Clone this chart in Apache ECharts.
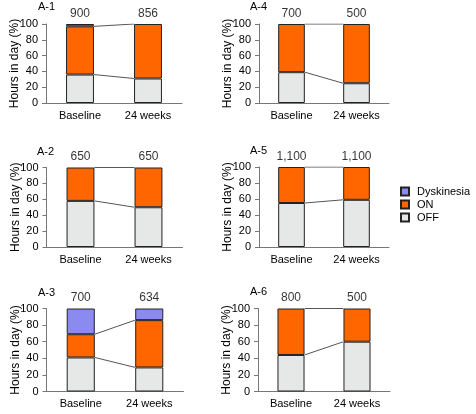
<!DOCTYPE html>
<html><head><meta charset="utf-8">
<script src="https://cdn.jsdelivr.net/npm/echarts@6/dist/echarts.min.js"></script>
<style>html,body{margin:0;padding:0;background:#fff}#c{width:476px;height:414px}</style>
</head><body><div id="c"></div>
<script>
// ---- data ----
const panelNames = ['A-1', 'A-2', 'A-3', 'A-4', 'A-5', 'A-6'];
const categories = ['Baseline', '24 weeks'];
const offValues  = [[36, 31], [58, 50], [41, 29], [39, 25], [55, 59], [44, 60]];
const onValues   = [[61, 69], [42, 50], [28, 57], [61, 75], [45, 41], [56, 40]];
const dyskValues = [[3, 0], [0, 0], [31, 14], [0, 0], [0, 0], [0, 0]];
const topLabels  = [['900', '856'], ['650', '650'], ['700', '634'], ['700', '500'], ['1,100', '1,100'], ['800', '500']];
const yTickMin = 0, yTickMax = 100, yTickStep = 20;
const legendNames = ['Dyskinesia', 'ON', 'OFF'];

// ---- layout ----
const grids = [
  {left: 46, top: 24, width: 136, height: 79},
  {left: 46.5, top: 167.5, width: 136, height: 79.5},
  {left: 46.5, top: 308.5, width: 137, height: 83},
  {left: 259, top: 24, width: 130, height: 79},
  {left: 259, top: 167, width: 130, height: 80},
  {left: 258, top: 308.5, width: 132, height: 83}
];
const titlePos = [
  {left: 38, top: 1}, {left: 37, top: 146}, {left: 38, top: 287},
  {left: 250, top: 1}, {left: 250, top: 145}, {left: 250, top: 286}
];
const colors = {Dyskinesia: '#8a8af0', ON: '#ff6600', OFF: '#e6e8e8'};
const FONT = 'Liberation Sans, Arial, Helvetica, sans-serif';
const barFrac = 0.41;
const axisColor = '#777';

const xAxes = [], yAxes = [], series = [], titles = [];
grids.forEach((g, i) => {
  titles.push({text: panelNames[i], left: titlePos[i].left, top: titlePos[i].top, padding: 0,
    textStyle: {fontSize: 11, fontWeight: 'normal', color: '#000', fontFamily: FONT}});
  xAxes.push({type: 'category', gridIndex: i, data: categories,
    axisLine: {lineStyle: {color: axisColor}},
    axisTick: {length: 3, lineStyle: {color: axisColor}},
    axisLabel: {fontSize: 11, color: '#000', fontFamily: FONT, margin: 7, interval: 0}});
  xAxes.push({type: 'value', gridIndex: i, min: 0, max: 2, show: false});
  yAxes.push({type: 'value', gridIndex: i, min: yTickMin, max: yTickMax, interval: yTickStep,
    name: 'Hours in day (%)', nameLocation: 'middle', nameGap: 25, nameRotate: 90,
    nameMoveOverlap: false,
    nameTextStyle: {fontSize: 12, color: '#000', fontFamily: FONT},
    axisLine: {show: true, lineStyle: {color: axisColor}},
    axisTick: {show: true, length: 4, lineStyle: {color: axisColor}},
    splitLine: {show: false},
    axisLabel: {fontSize: 11, color: '#000', fontFamily: FONT, margin: 8}});
  const stack = 's' + i;
  [['OFF', offValues], ['ON', onValues], ['Dyskinesia', dyskValues]].forEach(([name, arr]) => {
    series.push({type: 'bar', name: name, stack: stack, xAxisIndex: 2 * i, yAxisIndex: i,
      data: arr[i].map(v => (v === 0 ? '-' : v)), barWidth: (barFrac * 100) + '%',
      itemStyle: {color: colors[name], borderColor: '#222', borderWidth: 1}});
  });
  const hw = barFrac / 2;
  const off = offValues[i];
  const onTop = [offValues[i][0] + onValues[i][0], offValues[i][1] + onValues[i][1]];
  [off, onTop].forEach((vals, k) => {
    series.push({type: 'line', name: 'conn' + i + '_' + k, xAxisIndex: 2 * i + 1, yAxisIndex: i,
      data: [[0.5 + hw, vals[0]], [1.5 - hw, vals[1]]], symbol: 'none', silent: true, z: 1,
      lineStyle: {color: '#555', width: 1}});
  });
  series.push({type: 'scatter', name: 'lbl' + i, xAxisIndex: 2 * i, yAxisIndex: i,
    data: [yTickMax, yTickMax], symbolSize: 1, itemStyle: {color: 'rgba(0,0,0,0)'}, silent: true,
    label: {show: true, position: 'top', distance: 4, fontSize: 12, color: '#000', fontFamily: FONT,
      formatter: p => topLabels[i][p.dataIndex]}});
});

const chart = echarts.init(document.getElementById('c'), null, {renderer: 'canvas'});
chart.setOption({
  animation: false,
  backgroundColor: '#fff',
  title: titles,
  grid: grids.map(g => Object.assign({containLabel: false}, g)),
  xAxis: xAxes,
  yAxis: yAxes,
  legend: {data: legendNames, orient: 'vertical', left: 400, top: 186, padding: 0, itemWidth: 8, itemHeight: 8,
    itemGap: 2, icon: 'rect', selectedMode: false,
    textStyle: {fontSize: 11, color: '#000', fontFamily: FONT, padding: [0, 0, 0, 3]}},
  series: series
});
</script></body></html>
